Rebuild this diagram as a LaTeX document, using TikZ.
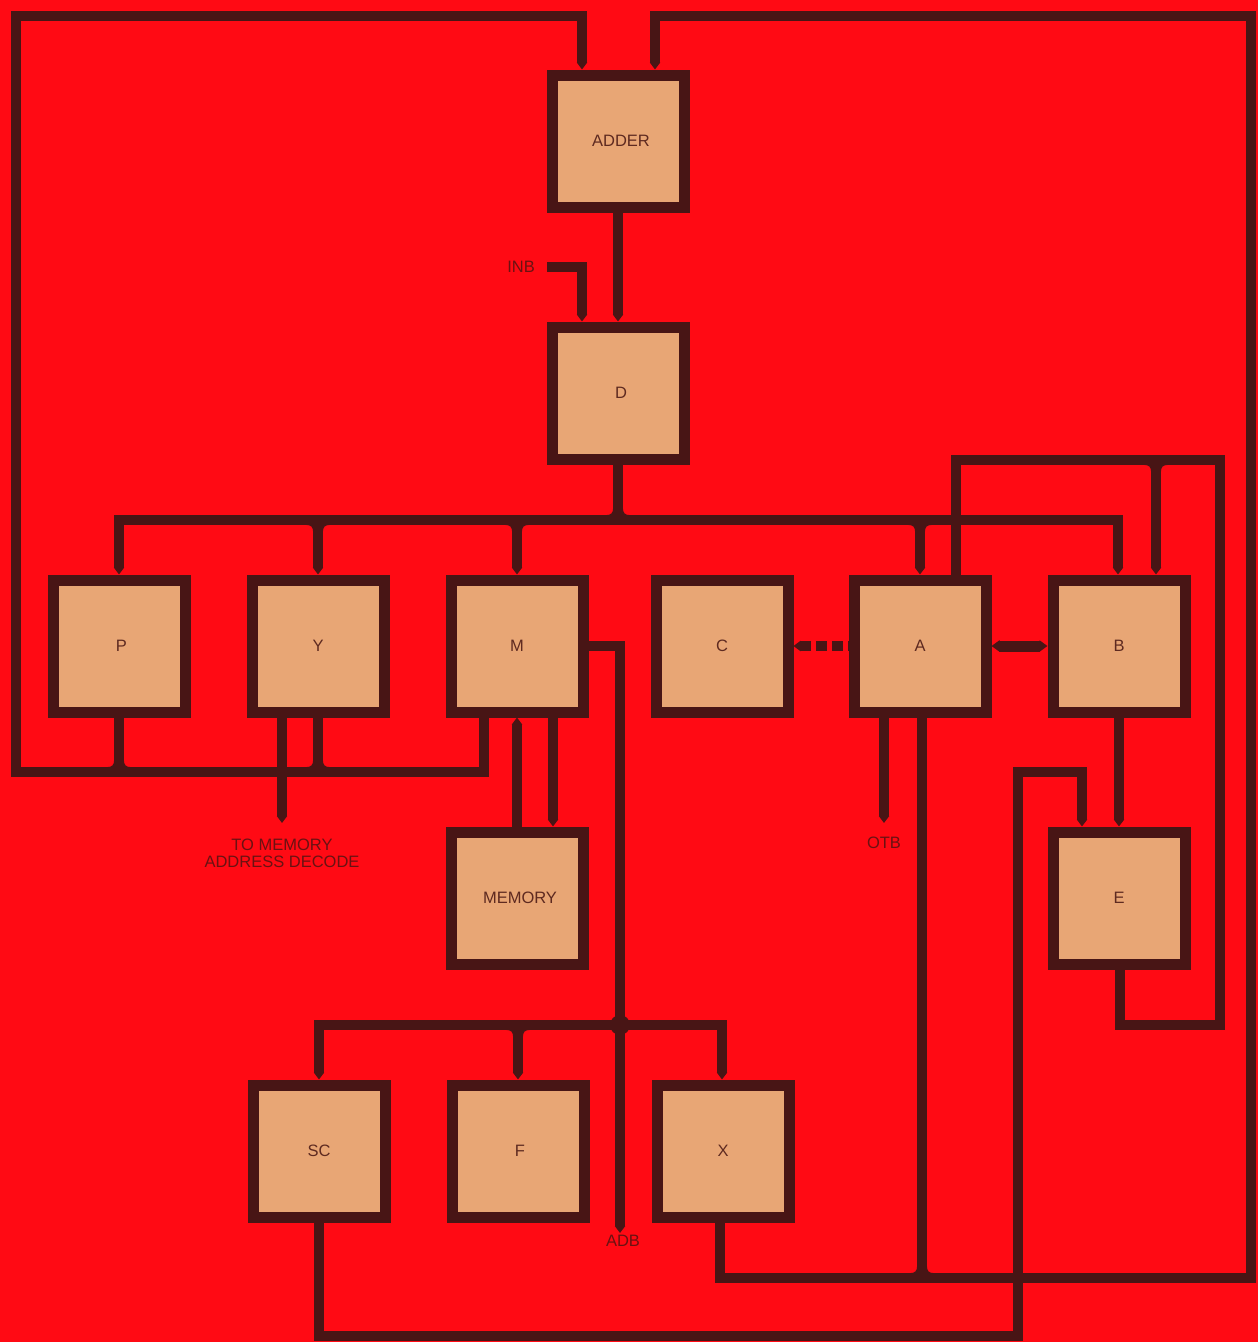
\documentclass[tikz,border=0pt]{standalone}
\usepackage{fontspec}
\newfontfamily\lsans{Liberation Sans}
\usetikzlibrary{arrows.meta}
\definecolor{bgred}{HTML}{FF0A14}
\definecolor{tanc}{HTML}{E8A675}
\definecolor{wirec}{HTML}{481515}
\definecolor{txtc}{HTML}{5E2A20}
\definecolor{lblc}{HTML}{6A1212}
\tikzset{
  blk/.style={draw=wirec, fill=tanc, line width=11pt, minimum size=132pt, inner sep=0pt,
    font=\lsans\fontsize{16.5}{18}\selectfont, text=txtc},
  wire/.style={draw=wirec, line width=10pt, line join=miter, line cap=butt},
  lbl/.style={font=\lsans\fontsize{16.5}{17}\selectfont, text=lblc, inner sep=0pt, align=center},
  >={Triangle[length=7pt,width=10pt]},
  fil/.pic={
    \fill[wirec] (4.9,4.9) -- (12,4.9) .. controls (7,4.9) and (4.9,7) .. (4.9,12) -- cycle;
    \fill[wirec] (-4.9,4.9) -- (-12,4.9) .. controls (-7,4.9) and (-4.9,7) .. (-4.9,12) -- cycle;
  }
}
\begin{document}
\begin{tikzpicture}[x=1pt,y=-1pt]
\useasboundingbox (0,0) rectangle (1258,1342);
\fill[bgred] (0,0) rectangle (1258,1342);

% blocks
\node[blk] (ADDER) at (618,141) {\hspace*{6pt}ADDER};
\node[blk] (D) at (618,393) {\hspace*{6pt}D};
\node[blk] (P) at (119,646) {\hspace*{5pt}P};
\node[blk] (Y) at (318,646) {Y};
\node[blk] (M) at (517,646) {M};
\node[blk] (C) at (722,646) {C};
\node[blk] (A) at (920,646) {A};
\node[blk] (B) at (1119,646) {B};
\node[blk] (MEMORY) at (517,898) {\hspace*{6pt}MEMORY};
\node[blk] (E) at (1119,898) {E};
\node[blk] (SC) at (319,1151) {SC};
\node[blk] (F) at (518,1151) {\hspace*{4pt}F};
\node[blk] (X) at (723,1151) {X};

% labels
\node[lbl] (inb) at (521,267) {INB};
\node[lbl] (mad) at (282,853) {TO MEMORY\\[0pt]ADDRESS DECODE};
\node[lbl] (otb) at (884,843) {OTB};
\node[lbl] (adb) at (623,1241) {ADB};
\coordinate (inbstart) at (547,267);
\coordinate (madend) at (282,823);
\coordinate (otbend) at (884,823);
\coordinate (adbend) at (620,1233);

% left feedback loop into ADDER
\draw[wire,->] ([xshift=-33pt]M.south) -- (484,772) -- (16,772) -- (16,16) -- (582,16) -- ([xshift=-36pt]ADDER.north);
\draw[wire] (P.south) -- (119,772);
\draw[wire] (Y.south) -- (318,772);
\pic[rotate=180] at (119,772) {fil};
\pic[rotate=180] at (318,772) {fil};
\draw[wire,->] ([xshift=-36pt]Y.south) -- (madend);

% right feedback loop into ADDER
\draw[wire,->] ([xshift=-3pt]X.south) -- (720,1278) -- (1251,1278) -- (1251,16) -- (655,16) -- ([xshift=37pt]ADDER.north);
\draw[wire] ([xshift=2pt]A.south) -- (922,1278);
\pic[rotate=180] at (922,1278) {fil};

% SC loop into E
\draw[wire,->] (SC.south) |- (1018,1336) -- (1018,772) -- (1082,772) -- ([xshift=-37pt]E.north);

% ADDER -> D, INB
\draw[wire,->] (ADDER.south) -- (D.north);
\draw[wire,->] (inbstart) -- (582,267) -- ([xshift=-36pt]D.north);

% D bus
\draw[wire] (D.south) -- (618,520);
\pic[rotate=180] at (618,520) {fil};
\draw[wire,<->] (P.north) -- (119,520) -- (1118,520) -- ([xshift=-1pt]B.north);
\draw[wire,->] (318,520) -- (Y.north);
\draw[wire,->] (517,520) -- (M.north);
\draw[wire,->] (920,520) -- (A.north);
\pic at (318,520) {fil};
\pic at (517,520) {fil};
\pic at (920,520) {fil};

% A top loop to B and E
\draw[wire] ([xshift=36pt]A.north) -- (956,460) -- (1220,460) -- (1220,1025) -- (1120,1025) -- ([xshift=1pt]E.south);
\draw[wire,->] (1156,460) -- ([xshift=37pt]B.north);
\pic at (1156,460) {fil};

% M <-> MEMORY
\draw[wire,->] (MEMORY.north) -- (M.south);
\draw[wire,->] ([xshift=36pt]M.south) -- ([xshift=36pt]MEMORY.north);

% OTB, B->E
\draw[wire,->] ([xshift=-36pt]A.south) -- (otbend);
\draw[wire,->] (B.south) -- (E.north);

% C <- A dashed, A <-> B
\draw[wire,dash pattern=on 11pt off 5pt,dash phase=-6pt,->] (A.west) -- (C.east);
\draw[wire,line width=11pt,{Triangle[length=8pt,width=11pt]}-{Triangle[length=8pt,width=11pt]}] (A.east) -- (B.west);

% M -> ADB bus to SC, F, X
\draw[wire,->] (M.east) -| (adbend);
\draw[wire,<->] (SC.north) |- (722,1025) -- ([xshift=-1pt]X.north);
\draw[wire,->] (518,1025) -- (F.north);
\pic at (518,1025) {fil};
\fill[wirec] (620,1025) circle (10pt);
\end{tikzpicture}
\end{document}
